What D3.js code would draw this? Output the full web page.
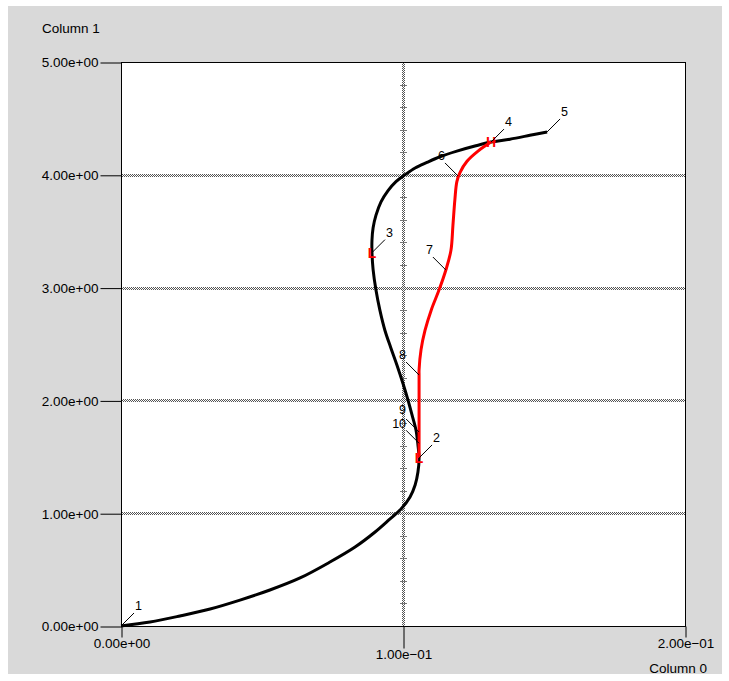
<!DOCTYPE html>
<html>
<head>
<meta charset="utf-8">
<script src="https://cdn.jsdelivr.net/npm/d3@7"></script>
<style>
  html, body { margin: 0; padding: 0; background: #ffffff; }
  svg text { font-family: "Liberation Sans", Arial, Helvetica, sans-serif; }
</style>
</head>
<body>
<svg id="chart" width="729" height="681"></svg>
<script>
// Main path (Column 0 vs Column 1)
const mainX = [0, 0.0103, 0.0209, 0.0316, 0.0422, 0.0528, 0.0635, 0.0741, 0.0830, 0.0901, 0.0954,
               0.0993, 0.1025, 0.1043, 0.1053, 0.1057, 0.1053, 0.1046, 0.1032, 0.1018, 0.1, 0.0979,
               0.0957, 0.0936, 0.0918, 0.0904, 0.0894, 0.089, 0.089, 0.0894, 0.0904, 0.0922, 0.0947,
               0.0975, 0.1007, 0.1043, 0.1085, 0.1131, 0.1191, 0.1255, 0.1312, 0.1379, 0.145, 0.1511];
const mainY = [0, 0.035, 0.089, 0.151, 0.230, 0.319, 0.426, 0.567, 0.700, 0.833, 0.949,
               1.037, 1.144, 1.25, 1.365, 1.49, 1.605, 1.738, 1.871, 2.0, 2.15, 2.31,
               2.465, 2.62, 2.80, 2.98, 3.16, 3.31, 3.42, 3.53, 3.64, 3.76, 3.86,
               3.94, 4.0, 4.06, 4.11, 4.16, 4.21, 4.255, 4.29, 4.316, 4.35, 4.38];

// Branch path
const branchX = [0.1057, 0.1057, 0.1057, 0.1057, 0.1057, 0.1064, 0.1078, 0.11, 0.1128, 0.1152,
                 0.117, 0.1177, 0.1184, 0.1191, 0.1202, 0.1227, 0.1266, 0.1312];
const branchY = [1.49, 1.738, 2.0, 2.225, 2.27, 2.45, 2.62, 2.80, 2.98, 3.156,
                 3.33, 3.55, 3.78, 3.94, 4.02, 4.12, 4.21, 4.29];

// Numbered points
const pointIds = ["1", "2", "3", "4", "5", "6", "7", "8", "9", "10"];
const pointX = [0, 0.1057, 0.089, 0.1312, 0.1511, 0.1195, 0.1152, 0.1057, 0.1057, 0.1057];
const pointY = [0, 1.49, 3.31, 4.29, 4.38, 3.99, 3.156, 2.225, 1.72, 1.62];

// Extremum markers
const markerText = ["L", "L", "H"];
const markerX = [0.1057, 0.089, 0.1312];
const markerY = [1.49, 3.31, 4.29];

// Axis ticks
const xTicks = [0, 0.1, 0.2];
const yTicks = [0, 1, 2, 3, 4, 5];
const xGrid = [0.1];
const yGrid = [1, 2, 3, 4];
const xTitle = "Column 0";
const yTitle = "Column 1";

const svg = d3.select("#chart");
const plot = { left: 121, right: 685, top: 62, bottom: 626 };

const x = d3.scaleLinear().domain([0, 0.2]).range([plot.left, plot.right]);
const y = d3.scaleLinear().domain([0, 5]).range([plot.bottom, plot.top]);

const fmt = v => {
  const s = v.toExponential(2);
  const [m, e] = s.split("e");
  const sign = e[0] === "-" ? "\u2212" : "+";
  const digits = e.replace(/[+-]/, "").padStart(2, "0");
  return m + "e" + sign + digits;
};

// checkerboard fill for the grid lines
const defs = svg.append("defs");
const pat = defs.append("pattern").attr("id", "dots").attr("patternUnits", "userSpaceOnUse")
  .attr("width", 2).attr("height", 2);
pat.append("rect").attr("width", 2).attr("height", 2).attr("fill", "#ffffff");
pat.append("rect").attr("x", 0).attr("y", 0).attr("width", 1).attr("height", 1).attr("fill", "#555");
pat.append("rect").attr("x", 1).attr("y", 1).attr("width", 1).attr("height", 1).attr("fill", "#555");

// panel background
svg.append("rect").attr("x", 8).attr("y", 6).attr("width", 714).attr("height", 668).attr("fill", "#d9d9d9");
svg.append("rect").attr("x", plot.left).attr("y", plot.top)
  .attr("width", plot.right - plot.left).attr("height", plot.bottom - plot.top).attr("fill", "#ffffff");

// grid lines
svg.append("g").selectAll("rect").data(yGrid).join("rect")
  .attr("x", plot.left).attr("y", d => Math.round(y(d)) - 1)
  .attr("width", plot.right - plot.left).attr("height", 3).attr("fill", "url(#dots)");
svg.append("g").selectAll("rect").data(xGrid).join("rect")
  .attr("x", d => Math.round(x(d)) - 1).attr("y", plot.top)
  .attr("width", 3).attr("height", plot.bottom - plot.top).attr("fill", "url(#dots)");

// minor ticks along the vertical grid line
const minorY = d3.range(0.2, 5, 0.2).filter(v => Math.abs(v - Math.round(v)) > 1e-6);
svg.append("g").selectAll("line").data(minorY).join("line")
  .attr("x1", x(0.1) - 3).attr("x2", x(0.1) + 4)
  .attr("y1", d => Math.round(y(d)) + 0.5).attr("y2", d => Math.round(y(d)) + 0.5)
  .attr("stroke", "#777").attr("stroke-width", 1);

// frame
svg.append("rect").attr("x", plot.left + 0.5).attr("y", plot.top + 0.5)
  .attr("width", plot.right - plot.left).attr("height", plot.bottom - plot.top)
  .attr("fill", "none").attr("stroke", "#000").attr("stroke-width", 1);

// y axis
const yAxis = svg.append("g").attr("transform", `translate(${plot.left + 0.5},0.5)`)
  .call(d3.axisLeft(y).tickValues(yTicks).tickFormat(fmt).tickSize(21).tickPadding(2));
yAxis.select(".domain").remove();
yAxis.selectAll("text").attr("font-size", 13.5).attr("fill", "#000")
  .attr("font-family", "'Liberation Sans', Arial, sans-serif");
yAxis.selectAll("line").attr("stroke", "#000");

// x axis
const xAxis = svg.append("g").attr("transform", `translate(0.5,${plot.bottom + 0.5})`)
  .call(d3.axisBottom(x).tickValues(xTicks).tickFormat(fmt).tickSize(11).tickPadding(1));
xAxis.select(".domain").remove();
xAxis.selectAll("text").attr("font-size", 13.5).attr("fill", "#000")
  .attr("font-family", "'Liberation Sans', Arial, sans-serif");
xAxis.selectAll("line").attr("stroke", "#000");
// stagger the middle label
xAxis.selectAll(".tick").filter(d => d === 0.1).each(function () {
  d3.select(this).select("line").attr("y2", 22);
  d3.select(this).select("text").attr("y", 23);
});

// axis titles
svg.append("text").attr("x", 42).attr("y", 33).attr("font-size", 13.5).text(yTitle);
svg.append("text").attr("x", 707).attr("y", 673).attr("text-anchor", "end").attr("font-size", 13.5).text(xTitle);

// curves
const line = d3.line().x(d => x(d[0])).y(d => y(d[1])).curve(d3.curveCatmullRom.alpha(0.5));
svg.append("path").datum(d3.zip(mainX, mainY)).attr("d", line)
  .attr("fill", "none").attr("stroke", "#000").attr("stroke-width", 3)
  .attr("stroke-linejoin", "round");
svg.append("path").datum(d3.zip(branchX, branchY)).attr("d", line)
  .attr("fill", "none").attr("stroke", "#ff0000").attr("stroke-width", 3)
  .attr("stroke-linejoin", "round");

// markers
svg.append("g").selectAll("text").data(d3.zip(markerText, markerX, markerY)).join("text")
  .attr("x", d => x(d[1])).attr("y", d => y(d[2]) + 5)
  .attr("text-anchor", "middle").attr("font-size", 14).attr("font-weight", "bold")
  .attr("fill", "#ff0000").text(d => d[0]);

// numbered labels with leader lines
const leftward = new Set(["6", "7", "8", "9", "10"]);
const labelDy = { "9": -18, "10": -15 };
const labels = svg.append("g").selectAll("g").data(d3.zip(pointIds, pointX, pointY)).join("g")
  .attr("transform", d => `translate(${x(d[1])},${y(d[2])})`);
labels.append("line")
  .attr("x1", 0).attr("y1", 0)
  .attr("x2", d => leftward.has(d[0]) ? -13 : 13).attr("y2", -13)
  .attr("stroke", "#000").attr("stroke-width", 1);
labels.append("text")
  .attr("x", d => leftward.has(d[0]) ? -13 : 14)
  .attr("y", d => labelDy[d[0]] ?? -16)
  .attr("text-anchor", d => leftward.has(d[0]) ? "end" : "start")
  .attr("font-size", 12.5).text(d => d[0]);
</script>
</body>
</html>
